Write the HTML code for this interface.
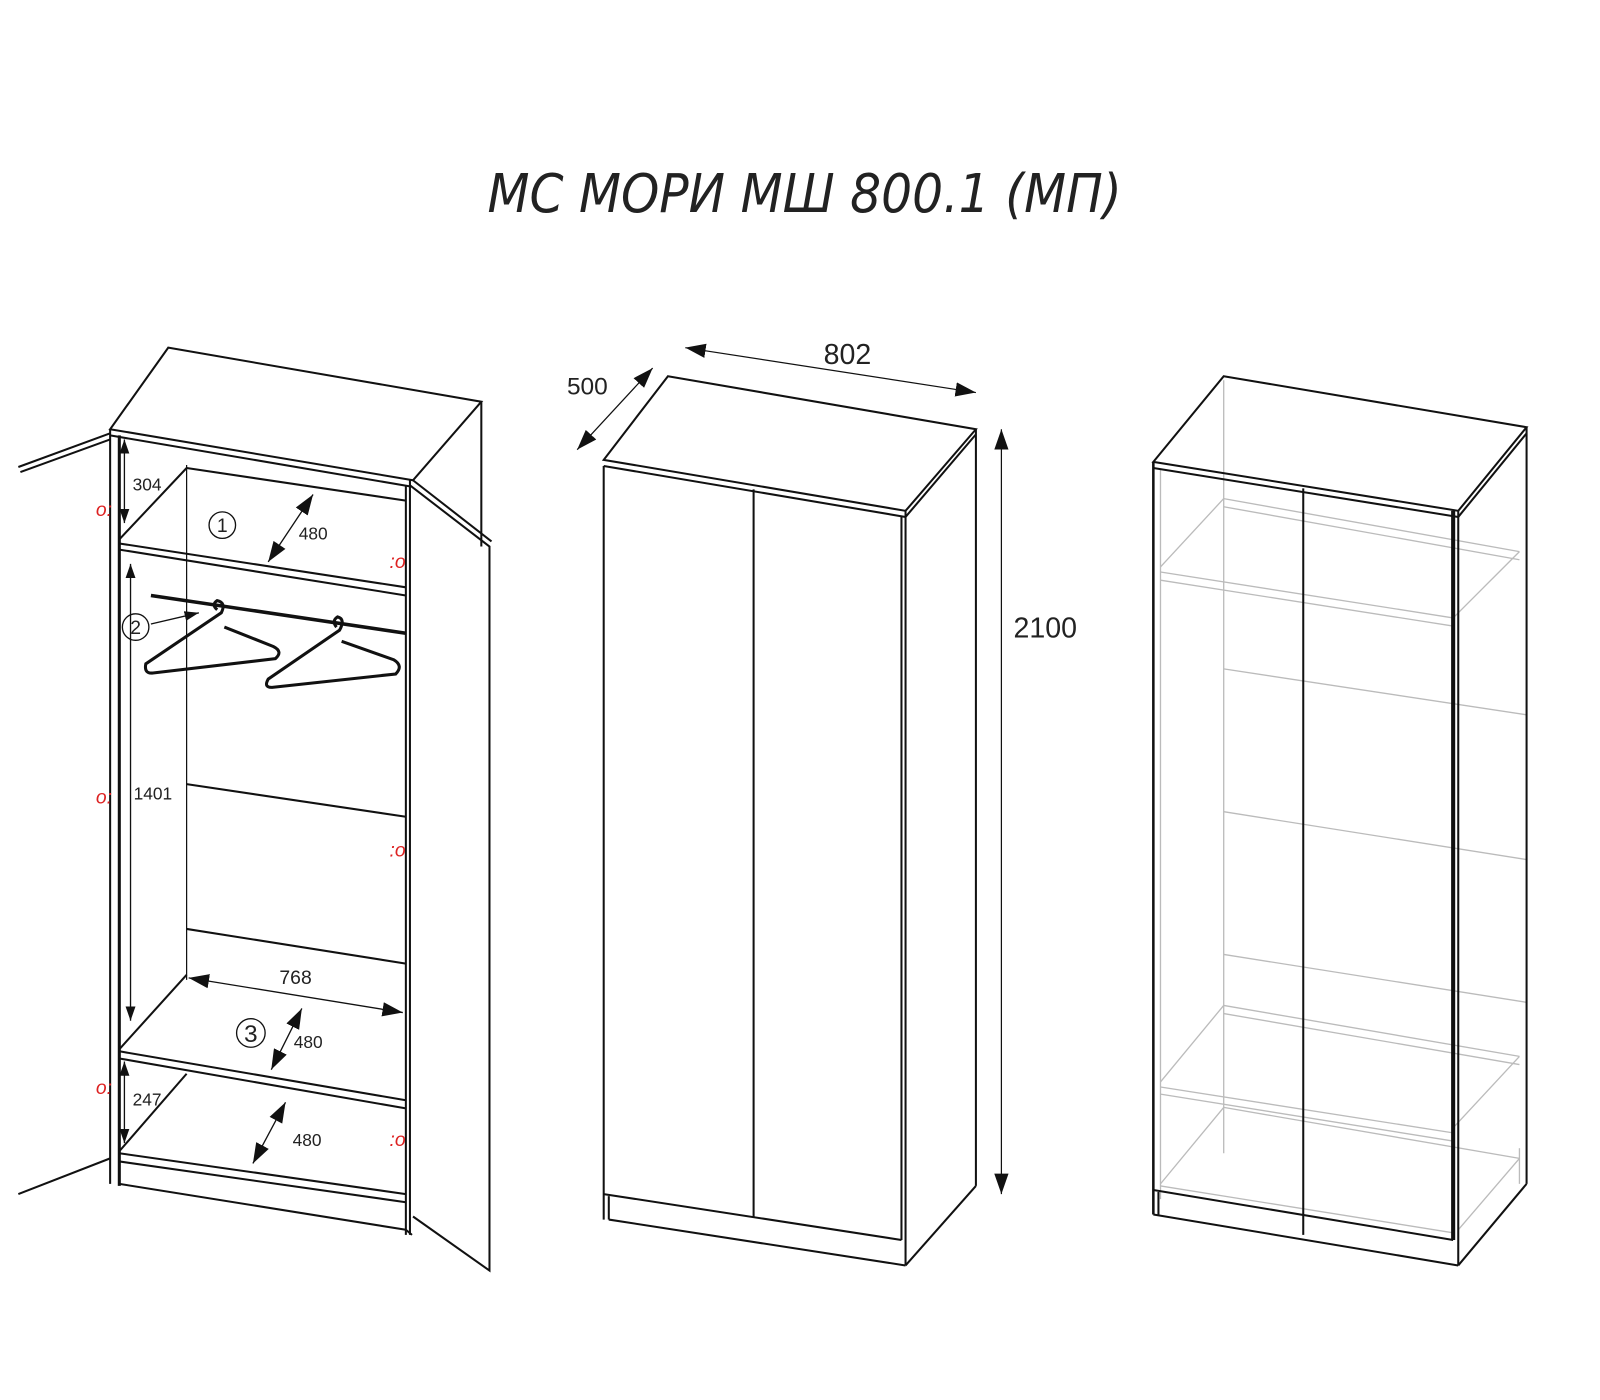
<!DOCTYPE html>
<html><head><meta charset="utf-8"><style>
html,body{margin:0;padding:0;background:#fff;}
svg{display:block;}
text{font-family:"Liberation Sans",sans-serif;fill:#222;}
</style></head><body>
<svg width="1600" height="1400" viewBox="0 0 1569 1371" xmlns="http://www.w3.org/2000/svg">
<defs>
<marker id="a" viewBox="0 0 10 10" refX="10" refY="5" markerWidth="14" markerHeight="14" markerUnits="userSpaceOnUse" orient="auto-start-reverse"><path d="M0,1.5 L10,5 L0,8.5 Z" fill="#111"/></marker>
<marker id="b" viewBox="0 0 10 10" refX="10" refY="5" markerWidth="20" markerHeight="20" markerUnits="userSpaceOnUse" orient="auto-start-reverse"><path d="M0,1.5 L10,5 L0,8.5 Z" fill="#111"/></marker>
</defs>
<rect width="1569" height="1371" fill="#fff"/>
<text x="478" y="207" font-size="52" font-style="italic" textLength="622" lengthAdjust="spacingAndGlyphs" style="font-family:'DejaVu Sans','Liberation Sans',sans-serif;font-weight:200" fill="#222">МС МОРИ МШ 800.1 (МП)</text>

<!-- LEFT CABINET -->
<g stroke="#111" stroke-width="2" fill="none">
<polygon points="165,340 472,393 405,470 108,420"/>
<line x1="108" y1="426" x2="402" y2="476"/>
<line x1="472" y1="393" x2="472" y2="535"/>
<line x1="402" y1="470" x2="402" y2="1210"/>
<line x1="398" y1="476" x2="398" y2="1210"/>
<polyline points="402,475 480,535 480,1245 405,1192"/>
<line x1="405" y1="470" x2="482" y2="530"/>
<line x1="108" y1="420" x2="108" y2="1160"/>
<line x1="117" y1="426" x2="117" y2="1162" stroke-width="3"/>
<line x1="108" y1="424" x2="18" y2="457"/><line x1="108" y1="430" x2="20" y2="462"/>
<line x1="108" y1="1135" x2="18" y2="1170"/>
<line x1="183" y1="455" x2="183" y2="960" stroke-width="1.2"/>
<line x1="183" y1="458" x2="398" y2="490"/>
<line x1="183" y1="458" x2="117" y2="528"/>
<line x1="117" y1="532" x2="398" y2="575"/><line x1="117" y1="538" x2="398" y2="583"/>
<line x1="148" y1="583" x2="398" y2="620" stroke-width="3.5"/>
<line x1="183" y1="768" x2="398" y2="800"/>
<line x1="183" y1="910" x2="398" y2="944"/>
<line x1="183" y1="955" x2="117" y2="1028"/>
<line x1="117" y1="1030" x2="398" y2="1078"/><line x1="117" y1="1037" x2="398" y2="1086"/>
<line x1="183" y1="1052" x2="117" y2="1128"/>
<line x1="117" y1="1130" x2="398" y2="1170"/><line x1="117" y1="1138" x2="398" y2="1178"/>
<line x1="117" y1="1160" x2="398" y2="1205"/>
<line x1="398" y1="1205" x2="404" y2="1210"/>
<path d="M213,597 Q207,592 213,588 Q222,590 217,600 L143,650 Q141,660 150,659 L270,645 Q278,638 268,633 L220,614" stroke-width="3"/>
<path d="M330,614 Q325,608 331,604 Q339,606 333,617 L263,665 Q258,674 268,673 L388,660 Q396,652 386,646 L335,628" stroke-width="3"/>
</g>
<g stroke="#111" stroke-width="1.3" fill="none">
<line x1="122" y1="430" x2="122" y2="512" marker-start="url(#a)" marker-end="url(#a)"/>
<line x1="128" y1="552" x2="128" y2="1000" marker-start="url(#a)" marker-end="url(#a)"/>
<line x1="122" y1="1040" x2="122" y2="1120" marker-start="url(#a)" marker-end="url(#a)"/>
<line x1="307" y1="484" x2="263" y2="550" marker-start="url(#b)" marker-end="url(#b)"/>
<line x1="296" y1="988" x2="266" y2="1048" marker-start="url(#b)" marker-end="url(#b)"/>
<line x1="280" y1="1080" x2="248" y2="1140" marker-start="url(#b)" marker-end="url(#b)"/>
<line x1="185" y1="958" x2="395" y2="992" marker-start="url(#b)" marker-end="url(#b)"/>
<line x1="148" y1="611" x2="195" y2="600" marker-end="url(#a)"/>
<circle cx="218" cy="514" r="13"/><circle cx="133" cy="614" r="13"/><circle cx="246" cy="1012" r="14"/>
</g>
<g font-size="17">
<text x="130" y="480">304</text><text x="293" y="528">480</text>
<text x="131" y="783">1401</text><text x="288" y="1027">480</text>
<text x="130" y="1083">247</text><text x="287" y="1123">480</text>
<text x="274" y="964" font-size="19">768</text>
<text x="218" y="521" font-size="19" text-anchor="middle">1</text>
<text x="133" y="621" font-size="19" text-anchor="middle">2</text>
<text x="246" y="1021" font-size="24" text-anchor="middle">3</text>
</g>
<g font-size="19" font-style="italic">
<text x="94" y="505" style="fill:#d22">o:</text>
<text x="94" y="787" style="fill:#d22">o:</text>
<text x="94" y="1072" style="fill:#d22">o:</text>
<text x="382" y="556" style="fill:#d22">:o</text>
<text x="382" y="839" style="fill:#d22">:o</text>
<text x="382" y="1123" style="fill:#d22">:o</text>
</g>

<!-- MIDDLE CABINET -->
<g stroke="#111" stroke-width="2" fill="none">
<polygon points="655,368 957,420 888,500 592,450"/>
<line x1="592" y1="456" x2="888" y2="506"/>
<line x1="888" y1="506" x2="957" y2="425"/>
<line x1="592" y1="456" x2="592" y2="1195"/>
<line x1="888" y1="500" x2="888" y2="1240"/>
<line x1="884" y1="505" x2="884" y2="1215"/>
<line x1="957" y1="420" x2="957" y2="1162"/>
<line x1="888" y1="1240" x2="957" y2="1162"/>
<line x1="739" y1="479" x2="739" y2="1192"/>
<line x1="592" y1="1170" x2="884" y2="1215"/>
<line x1="597" y1="1172" x2="597" y2="1195"/>
<line x1="597" y1="1195" x2="888" y2="1240"/>
</g>
<g stroke="#111" stroke-width="1.2" fill="none">
<line x1="672" y1="340" x2="957" y2="384" marker-start="url(#b)" marker-end="url(#b)"/>
<line x1="640" y1="360" x2="566" y2="440" marker-start="url(#b)" marker-end="url(#b)"/>
<line x1="982" y1="420" x2="982" y2="1170" marker-start="url(#b)" marker-end="url(#b)"/>
</g>
<text x="831" y="356" font-size="28" text-anchor="middle">802</text>
<text x="576" y="386" font-size="24" text-anchor="middle">500</text>
<text x="1025" y="624" font-size="28" text-anchor="middle">2100</text>

<!-- RIGHT CABINET -->
<g stroke="#bbb" stroke-width="1.3" fill="none">
<line x1="1200" y1="372" x2="1200" y2="1130"/>
<line x1="1138" y1="460" x2="1138" y2="1175"/>
<line x1="1200" y1="488" x2="1490" y2="540"/><line x1="1200" y1="496" x2="1490" y2="548"/>
<line x1="1200" y1="488" x2="1138" y2="555"/>
<line x1="1138" y1="560" x2="1425" y2="605"/><line x1="1138" y1="568" x2="1425" y2="613"/>
<line x1="1490" y1="540" x2="1425" y2="605"/>
<line x1="1200" y1="655" x2="1497" y2="700"/>
<line x1="1200" y1="795" x2="1497" y2="842"/>
<line x1="1200" y1="935" x2="1497" y2="982"/>
<line x1="1200" y1="985" x2="1490" y2="1035"/><line x1="1200" y1="993" x2="1490" y2="1043"/>
<line x1="1200" y1="985" x2="1138" y2="1060"/>
<line x1="1138" y1="1065" x2="1425" y2="1110"/><line x1="1138" y1="1072" x2="1425" y2="1118"/>
<line x1="1490" y1="1035" x2="1425" y2="1105"/>
<line x1="1200" y1="1085" x2="1490" y2="1135"/>
<line x1="1200" y1="1085" x2="1138" y2="1160"/>
<line x1="1490" y1="1135" x2="1430" y2="1205"/>
<line x1="1138" y1="1162" x2="1425" y2="1208"/>
<line x1="1490" y1="1125" x2="1490" y2="1160"/>
</g>
<g stroke="#111" stroke-width="2" fill="none">
<polygon points="1200,368 1497,418 1430,500 1131,452"/>
<line x1="1131" y1="458" x2="1430" y2="506"/>
<line x1="1430" y1="506" x2="1497" y2="424"/>
<line x1="1131" y1="452" x2="1131" y2="1190" stroke-width="2.5"/>
<line x1="1425" y1="500" x2="1425" y2="1215" stroke-width="4"/>
<line x1="1430" y1="500" x2="1430" y2="1240"/>
<line x1="1497" y1="418" x2="1497" y2="1160"/>
<line x1="1430" y1="1240" x2="1497" y2="1160"/>
<line x1="1278" y1="478" x2="1278" y2="1210"/>
<line x1="1131" y1="1166" x2="1425" y2="1215"/>
<line x1="1136" y1="1168" x2="1136" y2="1190"/>
<line x1="1131" y1="1190" x2="1430" y2="1240"/>
</g>
</svg>
</body></html>
